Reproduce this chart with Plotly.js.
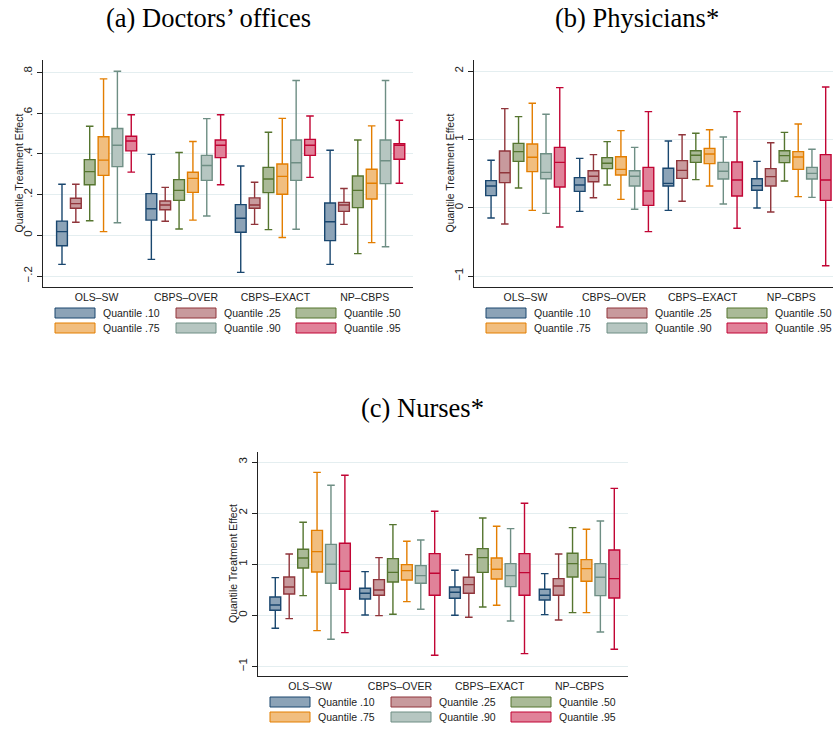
<!DOCTYPE html>
<html>
<head>
<meta charset="utf-8">
<script src="https://cdn.plot.ly/plotly-3.0.1.min.js"></script>
<style>
  html, body { margin: 0; padding: 0; background: #ffffff; }
  #chart { width: 833px; height: 730px; }
</style>
</head>
<body>
<div id="chart"></div>
<script>
// Estimators on the x axis and the quantiles drawn for each of them
const methods = ['OLS–SW', 'CBPS–OVER', 'CBPS–EXACT', 'NP–CBPS'];
const quantiles = ['Quantile .10', 'Quantile .25', 'Quantile .50', 'Quantile .75', 'Quantile .90', 'Quantile .95'];

// (a) Doctors' offices: rows = quantile, columns = estimator
const docLo  = [[-0.143, -0.118, -0.182, -0.143], [0.064, 0.069, 0.054, 0.054], [0.072, 0.031, 0.028, -0.090],
                [0.018, 0.075, -0.011, -0.036], [0.062, 0.095, 0.030, -0.056], [0.311, 0.249, 0.285, 0.256]];
const docQ1  = [[-0.051, 0.075, 0.015, -0.026], [0.133, 0.126, 0.133, 0.118], [0.249, 0.172, 0.210, 0.136],
                [0.295, 0.211, 0.202, 0.179], [0.338, 0.270, 0.270, 0.254], [0.415, 0.382, 0.393, 0.374]];
const docMed = [[0.018, 0.131, 0.084, 0.067], [0.156, 0.149, 0.149, 0.149], [0.313, 0.221, 0.277, 0.221],
                [0.370, 0.280, 0.290, 0.256], [0.443, 0.343, 0.357, 0.367], [0.464, 0.443, 0.443, 0.443]];
const docQ3  = [[0.070, 0.205, 0.151, 0.159], [0.182, 0.169, 0.184, 0.162], [0.372, 0.274, 0.334, 0.292],
                [0.485, 0.310, 0.351, 0.325], [0.525, 0.393, 0.469, 0.469], [0.487, 0.469, 0.472, 0.451]];
const docHi  = [[0.251, 0.398, 0.341, 0.418], [0.251, 0.236, 0.261, 0.230], [0.536, 0.407, 0.507, 0.469],
                [0.769, 0.461, 0.575, 0.538], [0.807, 0.574, 0.761, 0.761], [0.593, 0.593, 0.587, 0.566]];

// (b) Physicians
const phyLo  = [[-0.151, -0.054, -0.039, -0.005], [-0.239, 0.146, 0.093, -0.063], [0.288, 0.332, 0.410, 0.390],
                [-0.039, 0.122, 0.317, 0.161], [-0.083, -0.024, 0.054, 0.151], [-0.283, -0.351, -0.302, -0.849]];
const phyQ1  = [[0.176, 0.239, 0.317, 0.254], [0.366, 0.380, 0.429, 0.317], [0.678, 0.571, 0.663, 0.659],
                [0.527, 0.478, 0.644, 0.561], [0.424, 0.317, 0.420, 0.420], [0.302, 0.034, 0.171, 0.107]];
const phyMed = [[0.317, 0.332, 0.356, 0.322], [0.512, 0.459, 0.546, 0.454], [0.820, 0.649, 0.766, 0.761],
                [0.737, 0.561, 0.785, 0.741], [0.517, 0.459, 0.532, 0.502], [0.663, 0.244, 0.405, 0.405]];
const phyQ3  = [[0.395, 0.439, 0.576, 0.424], [0.829, 0.541, 0.688, 0.571], [0.941, 0.732, 0.834, 0.834],
                [0.932, 0.746, 0.868, 0.820], [0.790, 0.541, 0.663, 0.590], [0.883, 0.590, 0.668, 0.776]];
const phyHi  = [[0.693, 0.722, 0.976, 0.678], [1.449, 0.776, 1.068, 0.951], [1.332, 0.966, 1.088, 1.102],
                [1.527, 1.127, 1.141, 1.224], [1.366, 0.883, 1.034, 0.854], [1.756, 1.405, 1.405, 1.766]];

// (c) Nurses
const nurLo  = [[-0.254, 0.007, 0.000, 0.013], [-0.065, -0.007, -0.039, -0.091], [0.385, 0.020, 0.163, 0.052],
                [-0.300, 0.267, 0.196, 0.052], [-0.470, 0.117, -0.111, -0.326], [-0.339, -0.783, -0.750, -0.665]];
const nurQ1  = [[0.098, 0.320, 0.333, 0.300], [0.417, 0.391, 0.431, 0.391], [0.926, 0.652, 0.841, 0.750],
                [0.848, 0.691, 0.711, 0.665], [0.626, 0.626, 0.561, 0.385], [0.509, 0.391, 0.391, 0.339]];
const nurMed = [[0.202, 0.431, 0.450, 0.391], [0.554, 0.496, 0.600, 0.574], [1.122, 0.841, 1.129, 1.011],
                [1.246, 0.874, 0.900, 0.913], [0.998, 0.776, 0.776, 0.744], [0.861, 0.822, 0.835, 0.718]];
const nurQ3  = [[0.359, 0.528, 0.554, 0.509], [0.750, 0.698, 0.744, 0.718], [1.292, 1.109, 1.305, 1.213],
                [1.663, 0.992, 1.122, 1.089], [1.389, 0.972, 1.011, 1.011], [1.409, 1.207, 1.207, 1.279]];
const nurHi  = [[0.737, 0.855, 0.881, 0.815], [1.200, 1.129, 1.187, 1.200], [1.820, 1.774, 1.905, 1.716],
                [2.798, 1.448, 1.742, 1.683], [2.544, 1.474, 1.696, 1.846], [2.740, 2.035, 2.192, 2.485]];

// Panel headings, axis title and y tick labels
const panelTitles = ['(a) Doctors’ offices', '(b) Physicians*', '(c) Nurses*'];
const yTitle = 'Quantile Treatment Effect';
const docTickVals = [-0.2, 0, 0.2, 0.4, 0.6, 0.8];
const docTickText = ['−.2', '0', '.2', '.4', '.6', '.8'];
const phyTickVals = [-1, 0, 1, 2];
const phyTickText = ['−1', '0', '1', '2'];
const nurTickVals = [-1, 0, 1, 2, 3];
const nurTickText = ['−1', '0', '1', '2', '3'];

// Outline and fill colour for each quantile
const lineColors = ['#1a476f', '#90353b', '#55752f', '#e37e00', '#6e8e84', '#c10534'];
const fillColors = ['#8ca3b7', '#c89a9d', '#aaba97', '#f1be7f', '#b6c6c1', '#e08299'];

const W = 833, H = 730;
const px = v => v / W;
const py = v => 1 - v / H;

// Plot boxes in pixels: left, right, top, bottom
const panels = [
  { L: 43,  R: 413, T: 60,  B: 287, lo: docLo, q1: docQ1, med: docMed, q3: docQ3, hi: docHi,
    yr: [-0.254, 0.862], tv: docTickVals, tt: docTickText, xr: [-0.6, 3.54], title: panelTitles[0], tx: 208.5, ty: 18 },
  { L: 474, R: 833, T: 60,  B: 287, lo: phyLo, q1: phyQ1, med: phyMed, q3: phyQ3, hi: phyHi,
    yr: [-1.161, 2.161], tv: phyTickVals, tt: phyTickText, xr: [-0.58, 3.47], title: panelTitles[1], tx: 637, ty: 18 },
  { L: 258, R: 628, T: 452, B: 676, lo: nurLo, q1: nurQ1, med: nurMed, q3: nurQ3, hi: nurHi,
    yr: [-1.188, 3.196], tv: nurTickVals, tt: nurTickText, xr: [-0.58, 3.54], title: panelTitles[2], tx: 423, ty: 408 }
];

const sans = 'Liberation Sans, Arial, sans-serif';
const serif = 'Liberation Serif, Times New Roman, serif';

const traces = [];
const layout = {
  width: W, height: H,
  margin: { l: 0, r: 0, t: 0, b: 0 },
  paper_bgcolor: '#ffffff', plot_bgcolor: '#ffffff',
  boxmode: 'group', boxgap: 0.07, boxgroupgap: 0.22,
  showlegend: false,
  font: { family: sans, size: 11, color: '#222222' },
  annotations: [], shapes: []
};

panels.forEach((p, i) => {
  const sfx = i === 0 ? '' : String(i + 1);
  const xa = 'x' + sfx, ya = 'y' + sfx;
  quantiles.forEach((q, k) => {
    traces.push({
      type: 'box', name: q, xaxis: xa, yaxis: ya,
      offsetgroup: 'q' + k, alignmentgroup: 'panel' + i,
      x: methods,
      lowerfence: p.lo[k], q1: p.q1[k], median: p.med[k], q3: p.q3[k], upperfence: p.hi[k],
      fillcolor: fillColors[k],
      line: { color: lineColors[k], width: 1.4 },
      whiskerwidth: 0.7,
      boxpoints: false,
      hoverinfo: 'y'
    });
  });

  layout['xaxis' + sfx] = {
    domain: [px(p.L), px(p.R)], anchor: ya,
    type: 'category', range: p.xr,
    showline: true, linecolor: '#222222', linewidth: 1,
    ticks: '', showgrid: false, zeroline: false,
    tickfont: { family: sans, size: 10.5, color: '#222222' }
  };
  layout['yaxis' + sfx] = {
    domain: [py(p.B), py(p.T)], anchor: xa,
    range: p.yr, tickvals: p.tv, ticktext: p.tt, tickangle: -90,
    showline: true, linecolor: '#222222', linewidth: 1,
    ticks: 'outside', ticklen: 5, tickcolor: '#222222', tickwidth: 1,
    showgrid: true, gridcolor: '#e4eef0', gridwidth: 1, zeroline: false,
    tickfont: { family: sans, size: 11.5, color: '#222222' }
  };

  // y axis title, rotated, left of the tick labels
  layout.annotations.push({
    xref: 'paper', yref: 'paper', x: px(p.L - 25), y: py((p.T + p.B) / 2),
    xanchor: 'center', yanchor: 'middle', showarrow: false, textangle: -90,
    text: yTitle, font: { family: sans, size: 10.5, color: '#222222' }
  });

  // panel heading
  layout.annotations.push({
    xref: 'paper', yref: 'paper', x: px(p.tx), y: py(p.ty),
    xanchor: 'center', yanchor: 'middle', showarrow: false,
    text: p.title, font: { family: serif, size: 26.5, color: '#000000' }
  });

  // legend: two rows of three swatches under each panel
  const colX = [12, 133, 253];
  const rowY = [p.B + 26, p.B + 41];
  quantiles.forEach((q, k) => {
    const c = k % 3, r = Math.floor(k / 3);
    const x0 = p.L + colX[c], y0 = rowY[r] - 5;
    layout.shapes.push({
      type: 'rect', xref: 'paper', yref: 'paper',
      x0: px(x0), x1: px(x0 + 40), y0: py(y0 + 10), y1: py(y0),
      fillcolor: fillColors[k], line: { color: lineColors[k], width: 1 }
    });
    layout.annotations.push({
      xref: 'paper', yref: 'paper', x: px(x0 + 46), y: py(rowY[r]),
      xanchor: 'left', yanchor: 'middle', showarrow: false,
      text: q, font: { family: sans, size: 10.5, color: '#222222' }
    });
  });
});

Plotly.newPlot('chart', traces, layout, { staticPlot: true, displayModeBar: false });
</script>
</body>
</html>
